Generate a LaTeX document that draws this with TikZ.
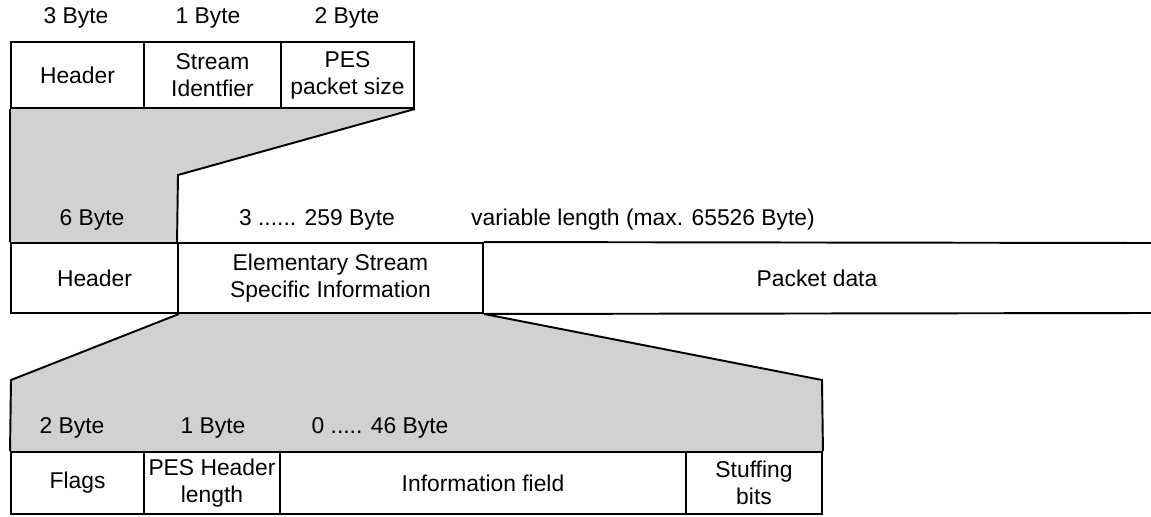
\documentclass[tikz,border=0pt]{standalone}
\usepackage{fontspec}
\setmainfont{Liberation Sans}
\usetikzlibrary{positioning, backgrounds}
\definecolor{hatchgray}{gray}{0.82}
\tikzstyle{field} = [draw, line width=1.1pt, inner sep=0pt, align=center, font=\fontsize{13}{15.3}\selectfont]
\tikzstyle{size}  = [inner sep=1pt, font=\fontsize{13}{15.3}\selectfont]
\tikzstyle{edge}  = [line width=1.1pt, line join=miter]

\begin{document}
\begin{tikzpicture}

\useasboundingbox (0,0) rectangle (23.02,10.32);

% PES header
\node[field, minimum width=2.66cm, minimum height=1.32cm] (hdrA) at (1.55,8.82) {Header};
\node[field, minimum width=2.74cm, minimum height=1.32cm] (sid) at (4.25,8.82) {Stream\\Identfier};
\node[field, minimum width=2.66cm, minimum height=1.32cm] (psize) at (6.95,8.82) {PES\\packet size};

\node[size] (bA) at (1.52,9.96) {3 Byte};
\node[size] (bB) at (4.16,9.96) {1 Byte};
\node[size] (bC) at (6.94,9.96) {2 Byte};

% PES packet
\node[field, minimum width=3.34cm, minimum height=1.40cm] (hdrB) at (1.89,4.76) {Header};
\node[field, minimum width=6.10cm, minimum height=1.40cm] (essi) at (6.61,4.76) {Elementary Stream\\Specific Information};
\node[size] (pdata) at (16.34,4.76) {Packet data};

\node[size] (bD) at (1.84,5.92) {6 Byte};
\node[size] (bE) at (6.34,5.92) {3 ...... 259 Byte};
\node[size] (bF) at (12.86,5.92) {variable length (max. 65526 Byte)};

% ES specific information
\node[field, minimum width=2.66cm, minimum height=1.24cm] (flags) at (1.55,0.66) {Flags};
\node[field, minimum width=2.72cm, minimum height=1.24cm] (hlen) at (4.24,0.66) {PES Header\\length};
\node[field, minimum width=8.12cm, minimum height=1.24cm] (info) at (9.66,0.66) {Information field};
\node[field, minimum width=2.72cm, minimum height=1.24cm] (stuff) at (15.08,0.66) {Stuffing\\bits};

\node[size] (bG) at (1.44,1.76) {2 Byte};
\node[size] (bH) at (4.26,1.76) {1 Byte};
\node[size] (bI) at (7.60,1.76) {0 ..... 46 Byte};

\coordinate (kinkA) at (3.56,6.82);
\coordinate (kinkL) at (0.22,2.72);
\coordinate (kinkR) at (16.44,2.72);
\coordinate (endT) at (23.02,5.46);
\coordinate (endB) at (23.02,4.06);

% schattierte Flächen
\begin{scope}[on background layer]
\fill[hatchgray] (hdrA.south west) -- (psize.south east) -- (kinkA) -- (essi.north west) -- (hdrB.north west) -- cycle;
\fill[hatchgray] (hdrB.south east) -- (kinkL) -- (flags.north west) -- (stuff.north east) -- (kinkR) -- (essi.south east) -- cycle;
\end{scope}

\draw[edge] (psize.south east) -- (kinkA) -- (essi.north west);
\draw[edge] (hdrA.south west) -- (hdrB.north west);
\draw[edge] (hdrB.south east) -- (kinkL) -- (flags.north west);
\draw[edge] (essi.south east) -- (kinkR) -- (stuff.north east);

\draw[edge] (essi.north east) -- (endT);
\draw[edge] (essi.south east) -- (endB);

\end{tikzpicture}
\end{document}
